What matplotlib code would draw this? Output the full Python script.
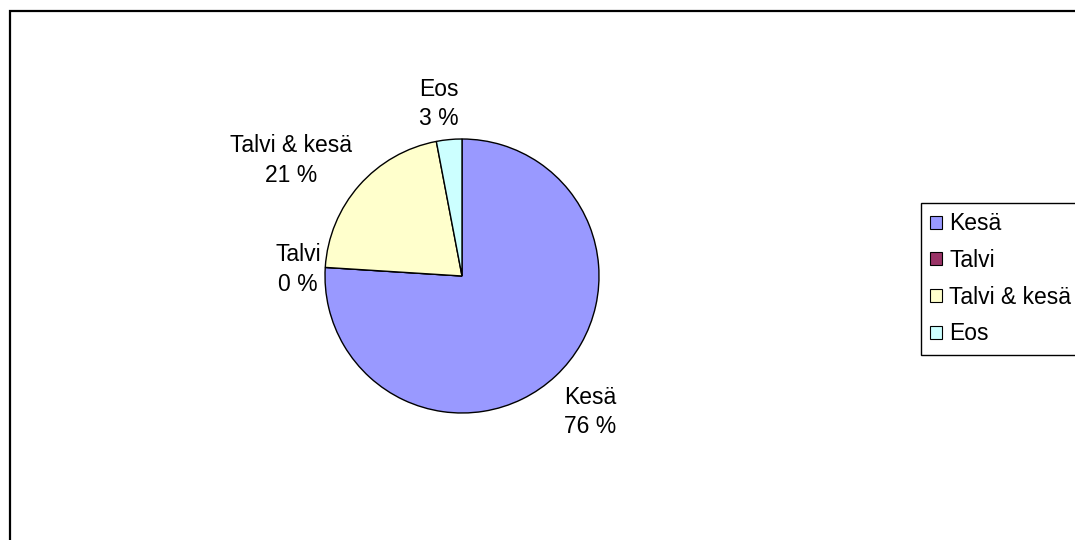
import matplotlib
matplotlib.use("Agg")
import matplotlib.pyplot as plt
from matplotlib.patches import Rectangle

plt.rcParams['font.family'] = ['Liberation Sans', 'DejaVu Sans']

categories = ["Kesä", "Talvi", "Talvi & kesä", "Eos"]
shares = [76, 0, 21, 3]
value_labels = ["76 %", "0 %", "21 %", "3 %"]
colors = ["#9999FF", "#993366", "#FFFFCC", "#CCFFFF"]

W, H = 1075, 540
DPI = 100
fig = plt.figure(figsize=(W / DPI, H / DPI), dpi=DPI)
fig.patch.set_facecolor("white")

FS = 16.5

# outer chart border (runs past right and bottom edges)
fig.patches.append(Rectangle((9.5 / W, -0.1), 1.2, (H - 10.5) / H + 0.1,
                             transform=fig.transFigure, fill=False,
                             edgecolor="black", linewidth=1.6))

# pie axes: centre (462, 276) px, radius 137 px
cx, cy, r = 462, 276, 137
ax = fig.add_axes([(cx - r) / W, (H - cy - r) / H, 2 * r / W, 2 * r / H])
wedges, _ = ax.pie(shares, colors=colors, startangle=90, counterclock=False,
                   radius=1.0,
                   wedgeprops=dict(edgecolor="black", linewidth=1.0))
ax.set_xlim(-1, 1)
ax.set_ylim(-1, 1)
ax.set_aspect("auto")
ax.axis("off")

# label positions in units of the pie radius
label_pos = [(0.934, -0.993), (-1.197, 0.045), (-1.248, 0.840), (-0.168, 1.255)]
for name, val, (lx, ly) in zip(categories, value_labels, label_pos):
    ax.text(lx, ly, f"{name}\n{val}", ha="center", va="center",
            fontsize=FS, linespacing=1.38, clip_on=False)

leg = fig.legend(wedges, categories, loc="upper left",
                 bbox_to_anchor=(921 / W, (H - 203) / H),
                 fontsize=FS, frameon=True, fancybox=False,
                 edgecolor="black", framealpha=1,
                 handlelength=0.5, handleheight=0.5, handletextpad=0.33,
                 borderpad=0.4, labelspacing=0.6, borderaxespad=0)
leg.get_frame().set_linewidth(1.0)
for h in leg.legend_handles:
    h.set_edgecolor("black")
    h.set_linewidth(0.8)

fig.savefig("out.png", dpi=DPI, facecolor="white")
